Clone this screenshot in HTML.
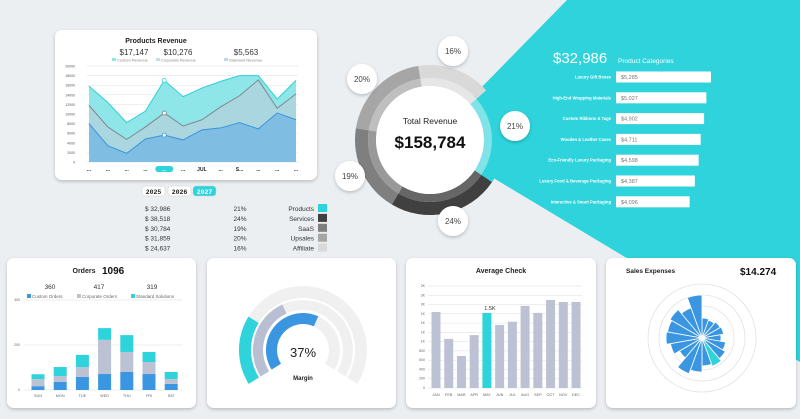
<!DOCTYPE html>
<html><head><meta charset="utf-8"><style>
html,body{margin:0;padding:0;background:#eceff2;}
svg{display:block;font-family:"Liberation Sans",sans-serif;}
</style></head><body>
<svg id="s" width="800" height="419" viewBox="0 0 800 419" xmlns="http://www.w3.org/2000/svg">
<defs>
<filter id="sh" x="-10%" y="-10%" width="120%" height="130%"><feDropShadow dx="0" dy="1.5" stdDeviation="1.8" flood-color="#000" flood-opacity="0.22"/></filter>
</defs>
<rect width="800" height="419" fill="#eceff2"/>
<polygon points="430,140 567,0 800,0 800,362" fill="#2fd3db"/>
<g id="cards"></g>
<g id="g"></g>
</svg>
<script>
const NS='http://www.w3.org/2000/svg';
const root=document.getElementById('g');
function el(tag,attrs,parent,text){const e=document.createElementNS(NS,tag);for(const k in attrs)e.setAttribute(k,attrs[k]);if(text!==undefined)e.textContent=text;(parent||root).appendChild(e);return e;}
function arcPath(cx,cy,r0,r1,a0,a1){const rad=a=>(a-90)*Math.PI/180;const p=(r,a)=>[cx+r*Math.cos(rad(a)),cy+r*Math.sin(rad(a))];const L=(a1-a0)>180?1:0;const [x1,y1]=p(r1,a0),[x2,y2]=p(r1,a1),[x3,y3]=p(r0,a1),[x4,y4]=p(r0,a0);return `M${x1},${y1}A${r1},${r1} 0 ${L} 1 ${x2},${y2}L${x3},${y3}A${r0},${r0} 0 ${L} 0 ${x4},${y4}Z`;}

// ---------- data ----------
const months=['JAN','FEB','MAR','APR','MAY','JUN','JUL','AUG','SEP','OCT','NOV','DEC'];
const revStandard=[8000,3400,1800,4800,5600,4600,6700,7100,8200,6900,10200,8800];
const revCorporate=[3800,3900,2900,2500,4600,2900,2100,4400,5600,10200,1000,5400];
const revCustom=[4000,5100,3500,3300,6800,6100,6600,5300,4200,900,1900,2800];
const revTicks=[0,2000,4000,6000,8000,10000,12000,14000,16000,18000,20000];
const revXLabels=['...','...','...','...','...','...','JUL','...','S...','...','...','...'];
const revTotals=['$17,147','$10,276','$5,563'];

const donutCats=['Affiliate','Products','Services','SaaS','Upsales'];
const donutPct=[16,21,24,19,20];
const donutColors=['#d9d9d9','#2fd3db','#404040','#7f7f7f','#a6a6a6'];
const donutInner=['#e6e6e6','#7fe3e8','#666666','#999999','#bfbfbf'];

const tableCats=['Products','Services','SaaS','Upsales','Affiliate'];
const tableVals=['$ 32,986','$ 38,518','$ 30,784','$ 31,859','$ 24,637'];
const tablePct=['21%','24%','19%','20%','16%'];
const tableColors=['#2fd3db','#404040','#7f7f7f','#a6a6a6','#d9d9d9'];

const prodCats=['Luxury Gift Boxes','High-End Wrapping Materials','Custom Ribbons & Tags','Wooden & Leather Cases','Eco-Friendly Luxury Packaging','Luxury Food & Beverage Packaging','Interactive & Smart Packaging'];
const prodVals=[5285,5027,4902,4711,4598,4387,4096];

const days=['SUN','MON','TUE','WED','THU','FRI','SAT'];
const ordCustom=[17,36,58,71,80,71,27];
const ordCorporate=[31,26,44,152,89,53,22];
const ordStandard=[22,40,54,52,75,45,31];
const ordTicks=[0,200,400];

const avgVals=[1640,1060,690,1140,1620,1360,1430,1770,1620,1900,1855,1855];
const avgTicks=['0','200','400','600','800','1K','1K','1K','1K','2K','2K','2K'];

const gaugeVals=[26,40,60];
const expVals=[20,19,21,22,19,24,27,30,28,34,38,26,32,36,35,37,32,43];

// ---------- cards ----------
const cards=document.getElementById('cards');
[['products-revenue-card',55,30,262,150],['orders-card',7,258,189,150],['margin-card',207,258,189,150],['average-check-card',406,258,190,150],['sales-expenses-card',606,258,190,150]].forEach(c=>{
 const r=el('rect',{x:c[1],y:c[2],width:c[3],height:c[4],rx:7,fill:'#fff',filter:'url(#sh)'},cards);
 
 
});

// ---------- products revenue ----------
(function(){
 const x=i=>89+i*(207/11), y=v=>162-v*96/20000;
 let t=el('text',{x:156,y:43,'font-size':7,'font-weight':'bold','text-anchor':'middle',fill:'#222'},root,'Products Revenue');
 
 
 const tx=[134,178,246],ln=['Custom Revenue','Corporate Revenue','Standard Revenue'],lc=['#8ee6e8','#c9dbe3','#b9d9ec'];
 revTotals.forEach((v,i)=>{
  let a=el('text',{x:tx[i],y:55,'font-size':8,'text-anchor':'middle',fill:'#333'},root,v);
  
  
  let r=el('rect',{x:tx[i]-22,y:58,width:4,height:3,fill:lc[i]});
  
  
  let l=el('text',{x:tx[i]-17,y:61.5,'font-size':4,fill:'#888'},root,ln[i]);
  
  
 });
 revTicks.forEach(v=>{
  let g=el('line',{x1:87,x2:298,y1:y(v),y2:y(v),stroke:'#ddd','stroke-width':0.5});
  
  
  let tl=el('text',{x:75,y:y(v)+1.5,'font-size':3.5,'text-anchor':'end',fill:'#555'},root,String(v));
  
  
 });
 const s1=revStandard, s2=revStandard.map((v,i)=>v+revCorporate[i]), s3=s2.map((v,i)=>v+revCustom[i]);
 const layers=[[s3,s2,'#8ee6e8','#2ecfd8','custom-revenue'],[s2,s1,'#aad6df','#7f8a8f','corporate-revenue'],[s1,null,'#7fbde3','#3a94dc','standard-revenue']];
 layers.forEach(L=>{
  let top=L[0].map((v,i)=>x(i)+','+y(v));
  let bot=L[1]?L[1].map((v,i)=>x(i)+','+y(v)).reverse():[x(11)+','+y(0),x(0)+','+y(0)];
  let a=el('polygon',{points:top.concat(bot).join(' '),fill:L[2]});
  
  
  let p=el('polyline',{points:top.join(' '),fill:'none',stroke:L[3],'stroke-width':1});
  
  
  let m=el('circle',{cx:x(4),cy:y(L[0][4]),r:2,fill:'#fff',stroke:L[3],'stroke-width':0.8});
  
  
 });
 revXLabels.forEach((lb,i)=>{
  if(i===4){let p=el('rect',{x:x(i)-9,y:166,width:18,height:6,rx:3,fill:'#2fd3db'});
   
   }
  let t2=el('text',{x:x(i),y:171,'font-size':5,'font-weight':'bold','text-anchor':'middle',fill:i===4?'#fff':'#222'},root,lb);
  
  
 });
})();

// ---------- year buttons & table ----------
[['2025',142,'#fff','#222'],['2026',168,'#fff','#222'],['2027',193,'#2fd3db','#fff']].forEach(b=>{
 let r=el('rect',{x:b[1],y:186,width:23,height:10,rx:3,fill:b[2],stroke:'#ccc','stroke-width':0.5});
 
 
 let t=el('text',{x:b[1]+11.5,y:194,'font-size':6.5,'font-weight':'bold','text-anchor':'middle',fill:b[3],'font-family':'Liberation Mono'},root,b[0]);
 
 
});
tableCats.forEach((c,i)=>{
 const yy=211+i*9.9;
 let a=el('text',{x:145,y:yy,'font-size':6.5,fill:'#333'},root,tableVals[i]);
 
 
 let b=el('text',{x:240,y:yy,'font-size':6.5,'text-anchor':'middle',fill:'#333'},root,tablePct[i]);
 
 
 let d=el('text',{x:314,y:yy,'font-size':6.5,'text-anchor':'end',fill:'#333'},root,c);
 
 
 let s=el('rect',{x:318,y:yy-7,width:9,height:8,fill:tableColors[i]});
 
 
});

// ---------- donut ----------
(function(){
 const cx=430,cy=140; let a=-9;
 const total=donutPct.reduce((p,q)=>p+q,0);
 donutPct.forEach((v,i)=>{
  const span=v/total*360;
  let o=el('path',{d:arcPath(cx,cy,62,75,a,a+span),fill:donutColors[i]});
  
  
  let n=el('path',{d:arcPath(cx,cy,54,62,a,a+span),fill:donutInner[i]});
  
  
  a+=span;
 });
 let c=el('circle',{cx:cx,cy:cy,r:54,fill:'#fff'});
 
 
 let t=el('text',{x:cx,y:124,'font-size':8.5,'text-anchor':'middle',fill:'#222'},root,'Total Revenue');
 
 
 let t2=el('text',{x:cx,y:148,'font-size':17,'font-weight':'bold','text-anchor':'middle',fill:'#111'},root,'$158,784');
 
 
 const bp=[[453,51],[515,126],[453,221],[350,176],[362,79]];
 donutPct.forEach((v,i)=>{
  let b=el('circle',{cx:bp[i][0],cy:bp[i][1],r:15,fill:'#fff',filter:'url(#sh)'});
  
  
  let bt=el('text',{x:bp[i][0],y:bp[i][1]+3,'font-size':8,'text-anchor':'middle',fill:'#444'},root,v+'%');
  
  
 });
})();

// ---------- product categories ----------
(function(){
 let h=el('text',{x:553,y:63,'font-size':15,fill:'#fff'},root,'$32,986');
 
 
 let h2=el('text',{x:618,y:63,'font-size':6.5,fill:'#fff'},root,'Product Categories');
 
 
 const w=v=>v*95/5285;
 prodVals.forEach((v,i)=>{
  const yy=77+i*20.8;
  let l=el('text',{x:611,y:yy+1.5,'font-size':4.2,'font-weight':'bold','text-anchor':'end',fill:'#fff'},root,prodCats[i]);
  
  
  let r=el('rect',{x:616,y:yy-5.5,width:w(v),height:11,fill:'#fff'});
  
  
  let vt=el('text',{x:621,y:yy+2,'font-size':5.5,fill:'#777'},root,'$'+v.toLocaleString('en-US'));
  
  
 });
})();

// ---------- orders ----------
(function(){
 const y=v=>390-v*90/400, x=i=>38+i*22.2;
 let t=el('text',{x:84,y:273,'font-size':7,'font-weight':'bold','text-anchor':'middle',fill:'#222'},root,'Orders');
 
 
 let t2=el('text',{x:102,y:274,'font-size':10,'font-weight':'bold',fill:'#111'},root,'1096');
 
 
 const sums=[ordCustom,ordCorporate,ordStandard].map(a=>a.reduce((p,q)=>p+q,0));
 const sx=[50,99,152];
 sums.forEach((s,i)=>{let n=el('text',{x:sx[i],y:289,'font-size':6.5,'text-anchor':'middle',fill:'#333'},root,String(s));
  
  });
 const lg=[['Custom Orders',27,'#3a96e0'],['Corporate Orders',77,'#bcc2d4'],['Standard Solutions',131,'#2fd3db']];
 lg.forEach(g=>{let r=el('rect',{x:g[1],y:294,width:4,height:4,fill:g[2]});
  
  
  let l=el('text',{x:g[1]+5,y:298,'font-size':4.5,fill:'#666'},root,g[0]);
  
  });
 ordTicks.forEach(v=>{let g=el('line',{x1:24,x2:182,y1:y(v),y2:y(v),stroke:'#ddd','stroke-width':0.6});
  
  
  let l=el('text',{x:20,y:y(v)+1,'font-size':3.5,'text-anchor':'end',fill:'#666'},root,String(v));
  
  });
 days.forEach((d,i)=>{
  let base=0;
  [[ordCustom,'#3a96e0','custom'],[ordCorporate,'#bcc2d4','corporate'],[ordStandard,'#2fd3db','standard']].forEach(s=>{
   const v=s[0][i];
   let r=el('rect',{x:x(i)-6.5,y:y(base+v),width:13,height:y(base)-y(base+v),fill:s[1]});
   
   
   base+=v;});
  let l=el('text',{x:x(i),y:397,'font-size':3.8,'text-anchor':'middle',fill:'#666'},root,d);
  
  
 });
})();

// ---------- margin gauge ----------
(function(){
 const cx=303,cy=350,a0=-122,a1=122,rings=[[52,64,'#2fd3db'],[40,50,'#b8bfd3'],[26,37,'#3a96e0']];
 rings.forEach((r,i)=>{
  let bg=el('path',{d:arcPath(cx,cy,r[0],r[1],a0,a1),fill:'#f0f0f0'});
  
  
  let fg=el('path',{d:arcPath(cx,cy,r[0],r[1],a0,a0+gaugeVals[i]/100*(a1-a0)),fill:r[2]});
  
  
 });
 let t=el('text',{x:cx,y:357,'font-size':13,'text-anchor':'middle',fill:'#222'},root,'37%');
 
 
 let t2=el('text',{x:cx,y:380,'font-size':6,'font-weight':'bold','text-anchor':'middle',fill:'#222'},root,'Margin');
 
 
})();

// ---------- average check ----------
(function(){
 const y=v=>388-v*102/2200, x=i=>436+i*12.73;
 let t=el('text',{x:501,y:273,'font-size':7,'font-weight':'bold','text-anchor':'middle',fill:'#222'},root,'Average Check');
 
 
 avgTicks.forEach((lb,i)=>{const v=i*200;
  let g=el('line',{x1:428,x2:582,y1:y(v),y2:y(v),stroke:'#ddd','stroke-width':0.5});
  
  
  let l=el('text',{x:425,y:y(v)+1,'font-size':3.5,'text-anchor':'end',fill:'#666'},root,lb);
  
  });
 avgVals.forEach((v,i)=>{
  let r=el('rect',{x:x(i)-4.5,y:y(v),width:9,height:y(0)-y(v),fill:i===4?'#2fd3db':'#bcc2d4'});
  
  
  let l=el('text',{x:x(i),y:396,'font-size':3.8,'text-anchor':'middle',fill:'#666'},root,months[i]);
  
  
 });
 let lb=el('text',{x:x(4)+3,y:y(avgVals[4])-3,'font-size':5.5,'text-anchor':'middle',fill:'#333'},root,'1.5K');
 
 
})();

// ---------- sales expenses ----------
(function(){
 const cx=702,cy=338;
 let t=el('text',{x:626,y:273,'font-size':6.5,'font-weight':'bold',fill:'#222'},root,'Sales Expenses');
 
 
 let t2=el('text',{x:740,y:275,'font-size':10,'font-weight':'bold',fill:'#111'},root,'$14.274');
 
 
 [32,43,54].forEach(r=>{let c=el('circle',{cx:cx,cy:cy,r:r,fill:'none',stroke:'#e2e2e2','stroke-width':0.8});
  
  });
 const n=expVals.length,step=360/n;
 expVals.forEach((v,i)=>{
  let p=el('path',{d:arcPath(cx,cy,0.01,v,i*step,(i+1)*step),fill:i===7?'#2fd3db':'#3a96e0',stroke:'#fff','stroke-width':0.8});
  
  
 });
})();
</script>
</body></html>
